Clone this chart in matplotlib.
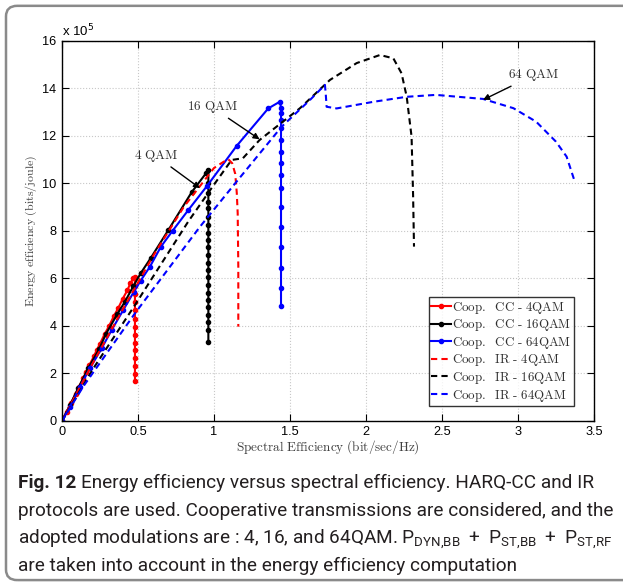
import matplotlib
matplotlib.use('Agg')
import matplotlib.pyplot as plt
from matplotlib.patches import FancyBboxPatch

CAP_FONT = 'Roboto'
plt.rcParams['mathtext.fontset'] = 'cm'
plt.rcParams['mathtext.rm'] = CAP_FONT

# energy efficiency values are in units of 1e5 bits/joule
cc4_se = [0, 0.03, 0.06, 0.09, 0.11, 0.14, 0.16, 0.18, 0.21, 0.23, 0.25, 0.28, 0.31, 0.34,
          0.37, 0.40, 0.43, 0.45, 0.47, 0.48,
          0.48, 0.48, 0.48, 0.48, 0.48, 0.48, 0.48, 0.48, 0.48, 0.48, 0.48, 0.48, 0.48]
cc4_ee = [0, 0.38, 0.76, 1.15, 1.42, 1.80, 2.07, 2.35, 2.72, 3.00, 3.25, 3.65, 4.00, 4.40,
          4.75, 5.15, 5.50, 5.80, 6.00, 6.08,
          5.68, 5.35, 5.02, 4.67, 4.31, 3.94, 3.62, 3.30, 2.99, 2.67, 2.33, 1.97, 1.68]

cc16_se = [0, 0.053, 0.107, 0.173, 0.245, 0.289, 0.364, 0.414, 0.47, 0.518, 0.583, 0.70,
           0.853, 0.95, 0.963,
           0.963, 0.963, 0.963, 0.963, 0.963, 0.963, 0.963, 0.963, 0.963, 0.963, 0.963,
           0.963, 0.963, 0.963, 0.963, 0.963, 0.963, 0.963, 0.963, 0.963, 0.963]
cc16_ee = [0, 0.67, 1.38, 2.22, 3.03, 3.66, 4.50, 5.02, 5.68, 6.22, 6.85, 8.04,
           9.63, 10.45, 10.55,
           10.00, 9.59, 9.23, 8.95, 8.60, 8.25, 7.90, 7.62, 7.31, 6.97, 6.66,
           6.36, 6.05, 5.73, 5.40, 5.09, 4.79, 4.46, 4.16, 3.83, 3.31]

cc64_se = [0, 0.053, 0.118, 0.184, 0.261, 0.327, 0.403, 0.474, 0.518, 0.579, 0.651, 0.728,
           0.831, 0.956, 1.149, 1.357, 1.435,
           1.441, 1.441, 1.441, 1.441, 1.441, 1.441, 1.441, 1.441, 1.441, 1.441, 1.441,
           1.441, 1.441, 1.441, 1.441]
cc64_ee = [0, 0.60, 1.44, 2.22, 3.06, 3.83, 4.67, 5.45, 5.91, 6.50, 7.34, 8.01,
           8.88, 9.91, 11.58, 13.16, 13.45,
           13.16, 12.95, 12.67, 12.32, 11.83, 11.34, 10.85, 10.36, 9.80, 9.02, 8.18,
           7.34, 6.46, 5.61, 4.83]

ir4_se = [0, 0.2, 0.4, 0.6, 0.8, 1.0, 1.06, 1.094, 1.12, 1.14, 1.15, 1.156, 1.16, 1.16]
ir4_ee = [0, 2.4, 4.7, 6.95, 9.0, 10.65, 10.9, 11.02, 10.85, 10.4, 9.6, 8.74, 6.5, 3.97]

ir16_se = [0, 0.2, 0.48, 0.83, 1.0, 1.116, 1.19, 1.30, 1.566, 1.763, 1.939, 2.092, 2.18,
           2.234, 2.268, 2.30, 2.31, 2.316]
ir16_ee = [0, 2.15, 4.88, 8.39, 9.95, 10.99, 11.06, 11.83, 13.17, 14.36, 15.07, 15.41, 15.27,
           14.64, 13.65, 11.97, 9.5, 7.34]

ir64_se = [0, 0.14, 0.48, 0.908, 1.149, 1.445, 1.632, 1.73, 1.735, 1.741, 1.807, 2.05, 2.268,
           2.46, 2.77, 2.97, 3.12, 3.25, 3.32, 3.37]
ir64_ee = [0, 1.45, 4.53, 8.18, 10.08, 12.39, 13.52, 14.15, 13.8, 13.23, 13.16, 13.44, 13.65,
           13.73, 13.56, 13.17, 12.6, 11.76, 11.13, 10.15]

labels = ['Coop.  CC - 4QAM', 'Coop.  CC - 16QAM', 'Coop.  CC - 64QAM',
          'Coop.  IR - 4QAM', 'Coop.  IR - 16QAM', 'Coop.  IR - 64QAM']

caption = ['Energy efficiency versus spectral efficiency. HARQ-CC and IR',
           'protocols are used. Cooperative transmissions are considered, and the',
           r'adopted modulations are : 4, 16, and 64QAM. $\mathrm{P}_{\mathrm{DYN{,}BB}}\;+\;'
           r'\mathrm{P}_{\mathrm{ST{,}BB}}\;+\;\mathrm{P}_{\mathrm{ST{,}RF}}$',
           'are taken into account in the energy efficiency computation']


def cm(s):
    # LaTeX-looking text via mathtext (keeps '-' as a hyphen)
    s = s.replace(' ', r'\ ').replace('-', r'\text{-}')
    return r'$\mathrm{' + s + '}$'


fig = plt.figure(figsize=(6.23, 5.83), dpi=100)

# rounded frame around the figure + caption
frame = FancyBboxPatch((6 / 623, 0.005), 1.2, 0.985, boxstyle='round,pad=0,rounding_size=0.018',
                       transform=fig.transFigure, fill=False, edgecolor='#8a8a8a', linewidth=1.8,
                       clip_on=False)
fig.patches.append(frame)

ax = fig.add_axes([0.0995, 0.278, 0.8539, 0.6517])

dash = (3, 2)
ax.plot(cc4_se, cc4_ee, '-', color='red', marker='.', markersize=6, linewidth=1.5, label=cm(labels[0]))
ax.plot(cc16_se, cc16_ee, '-', color='black', marker='.', markersize=6, linewidth=1.5, label=cm(labels[1]))
ax.plot(cc64_se, cc64_ee, '-', color='blue', marker='.', markersize=6, linewidth=1.5, label=cm(labels[2]))
ax.plot(ir4_se, ir4_ee, '--', color='red', linewidth=1.5, dashes=dash, label=cm(labels[3]))
ax.plot(ir16_se, ir16_ee, '--', color='black', linewidth=1.5, dashes=dash, label=cm(labels[4]))
ax.plot(ir64_se, ir64_ee, '--', color='blue', linewidth=1.5, dashes=dash, label=cm(labels[5]))

ax.set_xlim(0, 3.5)
ax.set_ylim(0, 16)
ax.set_xticks([0, 0.5, 1, 1.5, 2, 2.5, 3, 3.5])
ax.set_xticklabels(['0', '0.5', '1', '1.5', '2', '2.5', '3', '3.5'])
ax.set_yticks(range(0, 17, 2))
ax.tick_params(direction='in', top=True, right=True, length=5, labelsize=9.2, pad=4)
for lab in ax.get_xticklabels() + ax.get_yticklabels():
    lab.set_fontfamily('Liberation Sans')
ax.grid(True, linestyle=':', color='#c8c8c8', linewidth=0.8)
for s in ax.spines.values():
    s.set_linewidth(1.0)

ax.text(0.0, 1.005, r'x 10$^5$', transform=ax.transAxes, fontsize=9.5,
        family='Liberation Sans', math_fontfamily='dejavusans', va='bottom', ha='left')

ax.set_xlabel(cm('Spectral Efficiency (bit/sec/Hz)'), fontsize=9.5, color='#404040', labelpad=0)
ax.set_ylabel(cm('Energy efficiency (bits/joule)'), fontsize=8.6, color='#404040', labelpad=2)

arrow = dict(arrowstyle='-|>', color='black', lw=1.0, mutation_scale=9, shrinkA=0, shrinkB=0)
ax.annotate(cm('4 QAM'), xy=(0.908, 9.8), xytext=(0.62, 11.15), fontsize=9.5,
            color='#303030', ha='center', va='center', arrowprops=arrow)
ax.annotate(cm('16 QAM'), xy=(1.30, 11.86), xytext=(0.99, 13.2), fontsize=9.5,
            color='#303030', ha='center', va='center', arrowprops=arrow)
ax.annotate(cm('64 QAM'), xy=(2.77, 13.52), xytext=(3.1, 14.55), fontsize=9.5,
            color='#303030', ha='center', va='center', arrowprops=arrow)

leg = ax.legend(loc='lower right', bbox_to_anchor=(0.962, 0.039), fontsize=9.3,
                frameon=True, fancybox=False, edgecolor='black', handlelength=1.5,
                handletextpad=0.1, borderpad=0.2, labelspacing=0.12, borderaxespad=0)
leg.get_frame().set_linewidth(1.0)
for t in leg.get_texts():
    t.set_color('#303030')

# caption: size the font so the second line spans the same width as in the figure
cap_color = '#231f20'
x0 = 18
lines_y = [483, 511, 539, 566]
fig.canvas.draw()
r = fig.canvas.get_renderer()
probe = fig.text(0, 0, caption[1], fontsize=10, family=CAP_FONT)
w10 = probe.get_window_extent(renderer=r).width
probe.remove()
cap_fs = 10 * 594 / w10

t = fig.text(x0 / 623, 1 - lines_y[0] / 583, 'Fig. 12', fontsize=cap_fs, family=CAP_FONT,
             weight='bold', color=cap_color, va='center')
bb = t.get_window_extent(renderer=r)
fig.text((bb.x1 + 5) / 623, 1 - lines_y[0] / 583, caption[0],
         fontsize=cap_fs, family=CAP_FONT, color=cap_color, va='center')
for line, yy in zip(caption[1:], lines_y[1:]):
    fig.text(x0 / 623, 1 - yy / 583, line, fontsize=cap_fs, family=CAP_FONT,
             color=cap_color, va='center', math_fontfamily='custom')

fig.savefig('out.png', dpi=100)
